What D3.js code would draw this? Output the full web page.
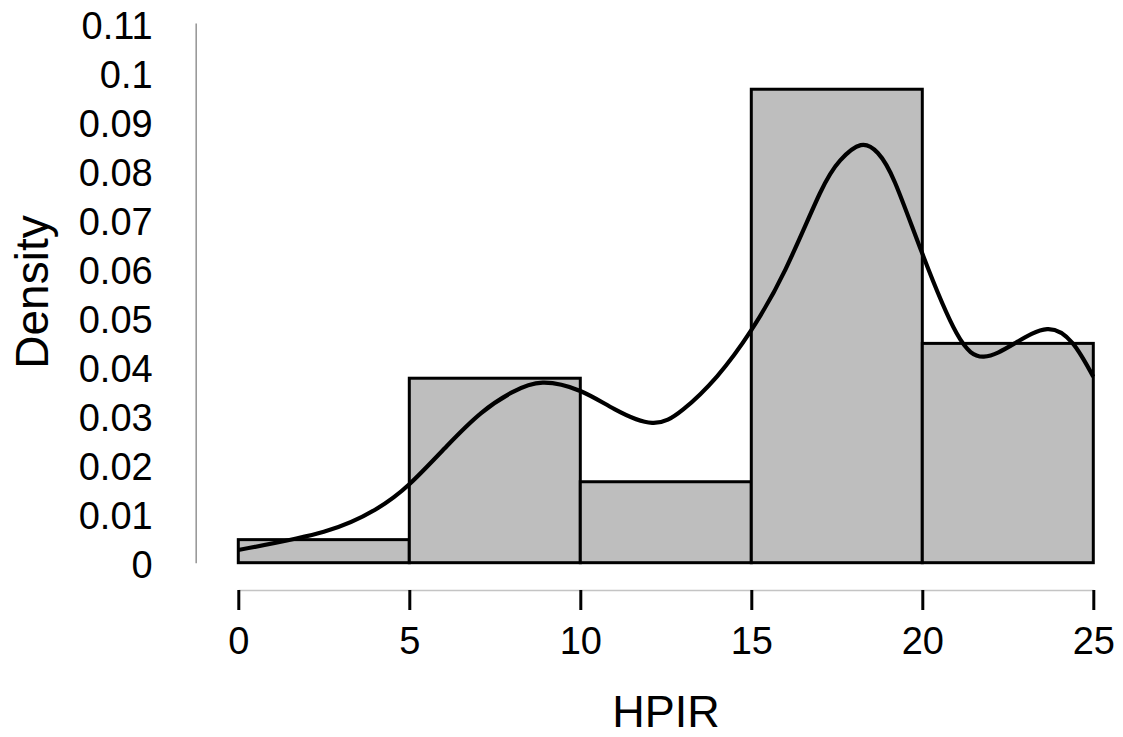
<!DOCTYPE html>
<html>
<head>
<meta charset="utf-8">
<script src="https://cdn.jsdelivr.net/npm/d3@7/dist/d3.min.js"></script>
<style>
  html, body { margin: 0; padding: 0; background: #fff; }
  svg { display: block; font-family: "Liberation Sans", Arial, sans-serif; }
</style>
</head>
<body>
<svg id="chart" width="1123" height="737"></svg>
<script>
// Histogram bins of HPIR (bin edges) and their densities
const binStarts = [0, 5, 10, 15, 20];
const binWidth = 5;
const binDensity = [0.0047, 0.0376, 0.0165, 0.0965, 0.0447];

// Kernel density estimate, sampled along HPIR
const kdeX = [0, 2.5, 4.0, 5.0, 6.1, 7.1, 8.0, 8.9, 10.0, 11.0, 12.1, 13.0, 14.0, 15.0, 16.0, 17.0, 17.6, 18.2, 18.7, 19.2, 20.0, 21.0, 21.8, 22.7, 23.65, 24.4, 25.0];
const kdeY = [0.0026, 0.0063, 0.0108, 0.0160, 0.0238, 0.0305, 0.0347, 0.0367, 0.0350, 0.0313, 0.0285, 0.0312, 0.0380, 0.0474, 0.0598, 0.0752, 0.0820, 0.0851, 0.0835, 0.0775, 0.0630, 0.0468, 0.0420, 0.0447, 0.0476, 0.0447, 0.0379];

// Axis ticks
const xTicks = [0, 5, 10, 15, 20, 25];
const yTicks = [0, 0.01, 0.02, 0.03, 0.04, 0.05, 0.06, 0.07, 0.08, 0.09, 0.1, 0.11];
const yTickLabels = ["0", "0.01", "0.02", "0.03", "0.04", "0.05", "0.06", "0.07", "0.08", "0.09", "0.1", "0.11"];

const svg = d3.select("#chart");

const x = d3.scaleLinear().domain([0, 25]).range([238.3, 1093.3]);
const y = d3.scaleLinear().domain([0, 0.11]).range([562.7, 23]);

// Bars
svg.append("g")
  .selectAll("rect")
  .data(binStarts.map((s, i) => ({ s, d: binDensity[i] })))
  .join("rect")
  .attr("x", d => x(d.s))
  .attr("y", d => y(d.d))
  .attr("width", d => x(d.s + binWidth) - x(d.s))
  .attr("height", d => y(0) - y(d.d))
  .attr("fill", "#bebebe")
  .attr("stroke", "#000")
  .attr("stroke-width", 3)
  .attr("stroke-linejoin", "miter");

// Density curve
const line = d3.line()
  .x((d, i) => x(kdeX[i]))
  .y(d => y(d))
  .curve(d3.curveNatural);

svg.append("path")
  .datum(kdeY)
  .attr("d", line)
  .attr("fill", "none")
  .attr("stroke", "#000")
  .attr("stroke-width", 4.2)
  .attr("stroke-linecap", "butt");

// X axis
const xAxis = svg.append("g")
  .attr("transform", "translate(0,590)")
  .call(d3.axisBottom(x).tickValues(xTicks).tickSize(20).tickPadding(17).tickSizeOuter(0).tickFormat(d3.format("d")));
xAxis.select(".domain").attr("stroke", "#c4c4c4").attr("stroke-width", 1.5);
xAxis.selectAll(".tick line").attr("stroke", "#000").attr("stroke-width", 3);
xAxis.selectAll(".tick text")
  .attr("font-size", 38)
  .attr("fill", "#000")
  .attr("font-family", "Liberation Sans, Arial, sans-serif");

// Y axis
const yAxis = svg.append("g")
  .attr("transform", "translate(195.7,0)")
  .call(d3.axisLeft(y).tickValues(yTicks).tickSize(0).tickPadding(43).tickSizeOuter(0)
    .tickFormat((d, i) => yTickLabels[i]));
yAxis.select(".domain").attr("stroke", "#9a9a9a").attr("stroke-width", 1.6);
yAxis.selectAll(".tick text")
  .attr("font-size", 38)
  .attr("fill", "#000")
  .attr("dy", "0.4em")
  .attr("font-family", "Liberation Sans, Arial, sans-serif");

// Axis titles
svg.append("text")
  .attr("x", 666)
  .attr("y", 727)
  .attr("text-anchor", "middle")
  .attr("font-size", 45)
  .attr("fill", "#000")
  .text("HPIR");

svg.append("text")
  .attr("transform", "translate(48,292) rotate(-90)")
  .attr("text-anchor", "middle")
  .attr("font-size", 46)
  .attr("fill", "#000")
  .text("Density");
</script>
</body>
</html>
